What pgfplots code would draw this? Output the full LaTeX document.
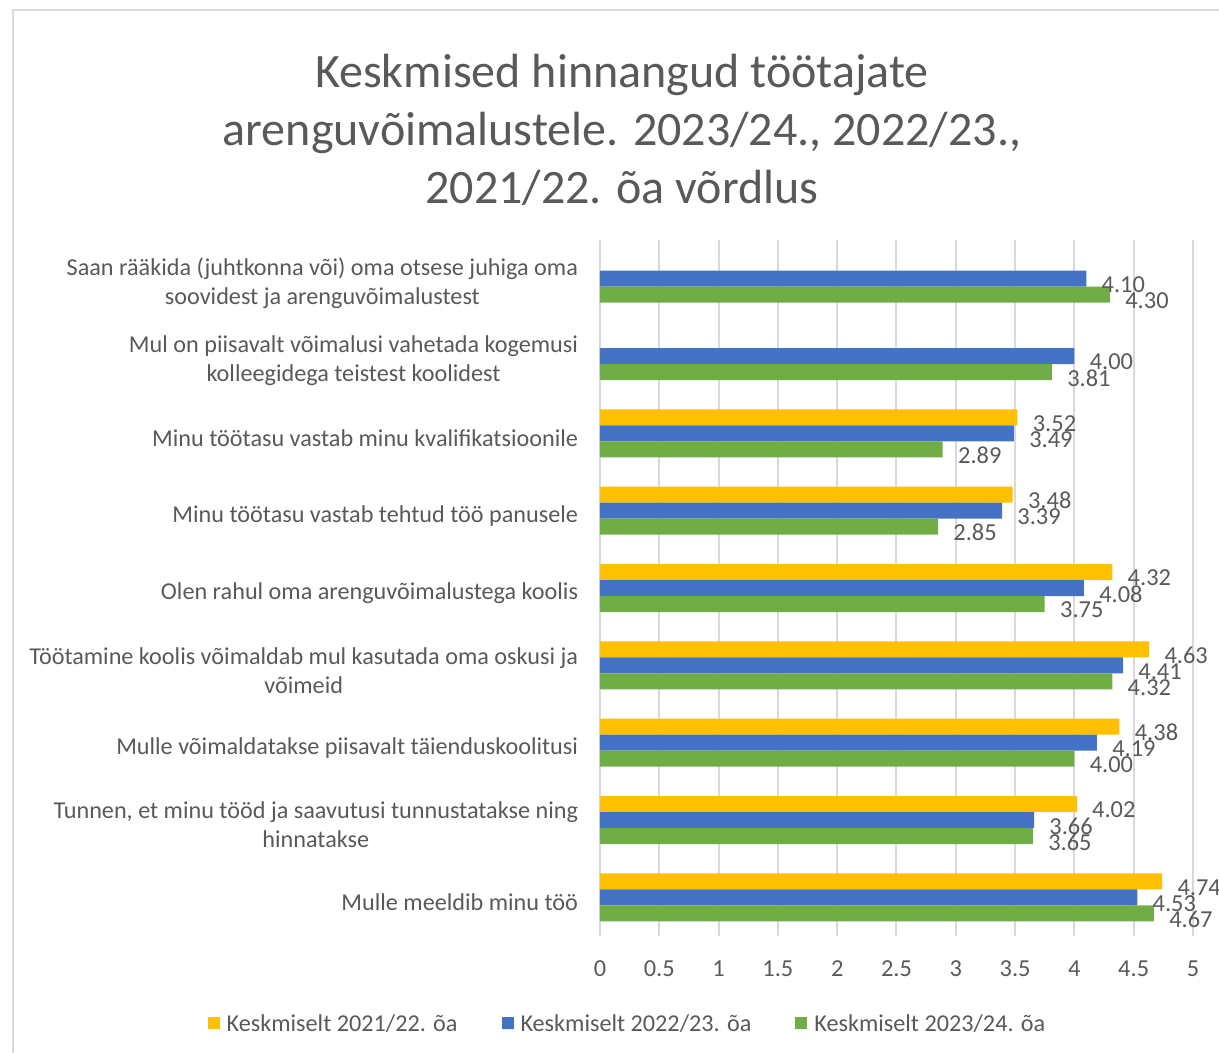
\documentclass[border=0pt]{standalone}
\usepackage{pgfplots}
\pgfplotsset{compat=1.18}
\usepackage{fontspec}
\setmainfont{Carlito}
\definecolor{cyel}{HTML}{FFC000}
\definecolor{cblu}{HTML}{4472C4}
\definecolor{cgrn}{HTML}{70AD47}
\definecolor{ctxt}{HTML}{595959}
\definecolor{cgrid}{HTML}{D9D9D9}
\begin{document}
\begin{tikzpicture}
\begin{axis}[
  at={(0,0)}, anchor=south west,
  scale only axis, width=296.5pt, height=348pt,
  xbar, bar width=8pt,
  xmin=0, xmax=5, ymin=-0.5, ymax=8.5,
  xtick={0,0.5,...,5},
  ytick={0,...,8},
  yticklabels={
    {Mulle meeldib minu töö},
    {Tunnen, et minu tööd ja saavutusi tunnustatakse ning\\hinnatakse},
    {Mulle võimaldatakse piisavalt täienduskoolitusi},
    {Töötamine koolis võimaldab mul kasutada oma oskusi ja\\võimeid},
    {Olen rahul oma arenguvõimalustega koolis},
    {Minu töötasu vastab tehtud töö panusele},
    {Minu töötasu vastab minu kvalifikatsioonile},
    {Mul on piisavalt võimalusi vahetada kogemusi\\kolleegidega teistest koolidest},
    {Saan rääkida (juhtkonna või) oma otsese juhiga oma\\soovidest ja arenguvõimalustest}},
  /pgf/number format/assume math mode=true,
  xmajorgrids, major grid style={cgrid, line width=1pt},
  axis line style={draw=none},
  major tick style={draw=none},
  xticklabel style={font=\fontsize{12.2}{14.5}\selectfont, text=ctxt, yshift=-9pt},
  yticklabel style={font=\fontsize{12.1}{14.5}\selectfont, text=ctxt, align=center, inner sep=0pt, xshift=-6.5pt, yshift=-2.5pt},
  nodes near coords={\pgfmathprintnumber[fixed,zerofill,precision=2]{\pgfplotspointmeta}},
  nodes near coords style={font=\fontsize{12.2}{14.5}\selectfont, text=ctxt, anchor=west, inner sep=0pt, xshift=7.5pt, yshift=-3pt},
  legend columns=3,
  legend style={at={(0.048,-0.128)}, anchor=center, draw=none, fill=none,
    font=\fontsize{12.1}{14.5}\selectfont, text=ctxt,
    /tikz/every even column/.append style={column sep=20pt}},
  legend image code/.code={\fill[#1,draw=none] (0pt,-2pt) rectangle (6pt,4pt); \path (0pt,-2pt) -- (7.5pt,-2pt);},
]
\addplot[fill=cyel, draw=none, bar shift=8pt] coordinates {
  (4.74,0) (4.02,1) (4.38,2) (4.63,3) (4.32,4) (3.48,5) (3.52,6)};
\addplot[fill=cblu, draw=none, bar shift=0pt] coordinates {
  (4.53,0) (3.66,1) (4.19,2) (4.41,3) (4.08,4) (3.39,5) (3.49,6) (4.00,7) (4.10,8)};
\addplot[fill=cgrn, draw=none, bar shift=-8pt] coordinates {
  (4.67,0) (3.65,1) (4.00,2) (4.32,3) (3.75,4) (2.85,5) (2.89,6) (3.81,7) (4.30,8)};
\legend{Keskmiselt 2021/22. õa, Keskmiselt 2022/23. õa, Keskmiselt 2023/24. õa}
\end{axis}
\node[align=center, text=ctxt, font=\fontsize{24}{29}\selectfont] at (11pt,403pt)
  {Keskmised hinnangud töötajate\\arenguvõimalustele. 2023/24., 2022/23.,\\2021/22. õa võrdlus};
\draw[cgrid, line width=1pt] (-293.5pt,-58.5pt) -- (-293.5pt,463pt) -- (309.5pt,463pt);
\pgfresetboundingbox
\useasboundingbox (-300pt,-58.5pt) rectangle (309.5pt,468pt);
\end{tikzpicture}
\end{document}
